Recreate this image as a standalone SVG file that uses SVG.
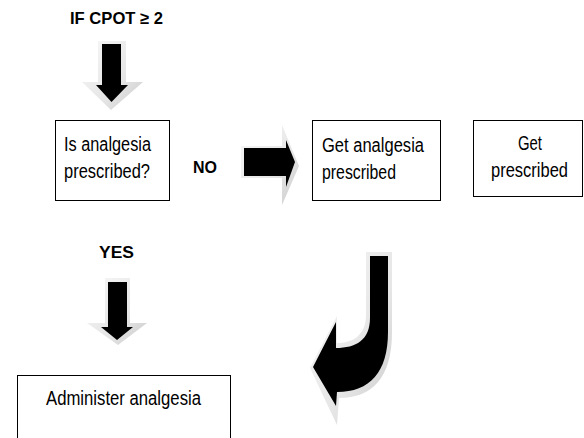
<svg xmlns="http://www.w3.org/2000/svg" width="584" height="438" viewBox="0 0 584 438">
<defs>
<linearGradient id="bevel" x1="0" y1="0" x2="1" y2="1">
<stop offset="0" stop-color="#f8f8f8"/>
<stop offset="0.6" stop-color="#e6e6e6"/>
<stop offset="1" stop-color="#cacaca"/>
</linearGradient>
</defs>
<style>
.box{fill:#fff;stroke:#000;stroke-width:1}
.t{font-family:"Liberation Sans",Arial,sans-serif;font-size:20px;fill:#000}
.b{font-family:"Liberation Sans",Arial,sans-serif;font-size:17px;font-weight:bold;fill:#000}
.sh{fill:url(#bevel)}
.ar{fill:#000}
</style>
<rect width="584" height="438" fill="#fff"/>

<g id="connectors">
  <text class="b" x="70" y="24" textLength="93" lengthAdjust="spacingAndGlyphs">IF CPOT ≥ 2</text>
  <g id="arrow-start">
    <polygon class="sh" points="98,41 126,41 126,82 143,82 111,110 82,82 98,82"/>
    <polygon class="ar" points="102,44 121,44 121,85 128,85 111.5,102 96,85 102,85"/>
  </g>
  <text class="b" x="193" y="173" textLength="24" lengthAdjust="spacingAndGlyphs">NO</text>
  <g id="arrow-no">
    <polygon class="sh" points="241,146 282,146 282,125 299,166 282,205 282,178 241,178"/>
    <polygon class="ar" points="244,148 286,148 286,140 295,162 286,187 286,176 244,176"/>
  </g>
  <text class="b" x="99" y="258" textLength="35" lengthAdjust="spacingAndGlyphs">YES</text>
  <g id="arrow-yes">
    <polygon class="sh" points="105,278 130,278 130,323 147,323 118,345 87,323 105,323"/>
    <polygon class="ar" points="108,282 127,282 127,327 133,327 117,340 101,327 108,327"/>
  </g>
  <g id="arrow-curved">
    <path class="sh" d="M366,252 L392,252 L392,332 C392,378 372,398 339,398 L337,425 L310,368 L337,316 L337,343 C352,343 366,336 366,315 Z"/>
    <path class="ar" d="M370,256 L388,256 L388,332 C388,372 370,392 337,392 L336,406 L313,367 L336,322 L336,348 C356,348 370,340 370,318 Z"/>
  </g>
</g>

<g id="node-question">
  <rect class="box" x="55.5" y="120.5" width="114" height="80"/>
  <text class="t" x="64" y="151" textLength="87" lengthAdjust="spacingAndGlyphs">Is analgesia</text>
  <text class="t" x="64" y="178" textLength="86" lengthAdjust="spacingAndGlyphs">prescribed?</text>
</g>

<g id="node-get-analgesia">
  <rect class="box" x="312.5" y="120.5" width="128" height="80"/>
  <text class="t" x="322" y="152" textLength="102" lengthAdjust="spacingAndGlyphs">Get analgesia</text>
  <text class="t" x="322" y="179" textLength="74" lengthAdjust="spacingAndGlyphs">prescribed</text>
</g>

<g id="node-get-prescribed">
  <rect class="box" x="473.5" y="120.5" width="109" height="76"/>
  <text class="t" x="518" y="150" textLength="24" lengthAdjust="spacingAndGlyphs">Get</text>
  <text class="t" x="491" y="177" textLength="77" lengthAdjust="spacingAndGlyphs">prescribed</text>
</g>

<g id="node-administer">
  <rect class="box" x="17.5" y="375.5" width="213" height="80"/>
  <text class="t" x="46" y="405" textLength="155" lengthAdjust="spacingAndGlyphs">Administer analgesia</text>
</g>
</svg>
